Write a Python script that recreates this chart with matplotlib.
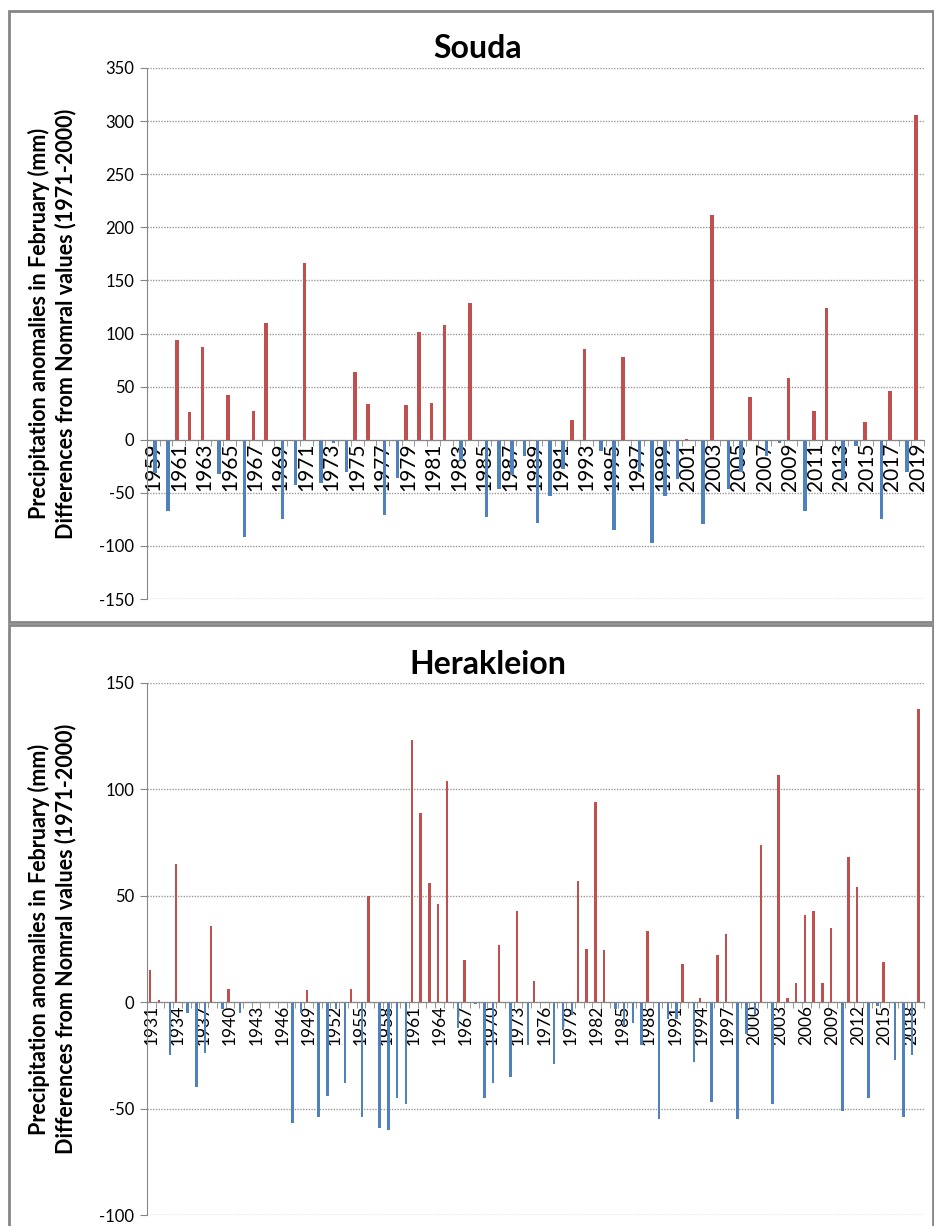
import numpy as np
import matplotlib
matplotlib.use("Agg")
import matplotlib.pyplot as plt
from matplotlib.patches import Rectangle
from matplotlib.ticker import MultipleLocator, FixedLocator

plt.rcParams['font.family'] = ['Lato', 'DejaVu Sans']
plt.rcParams['axes.unicode_minus'] = False

# Souda, February precipitation anomalies (mm), 1959-2019
souda_years = list(range(1959, 2020))
souda_vals = [-31, -67, 94, 26, 87, -32, 42, -92, 27, 110,
              -75, -43, 166, -41, -3, -30, 64, 34, -71, -36,
              33, 101, 35, 108, -20, 129, -73, -46, -33, -15,
              -78, -53, -28, 19, 85, -11, -85, 78, -30, -97,
              -53, -37, 1, -79, 212, -46, -30, 40, -15, -3,
              58, -67, 27, 124, -37, -6, 17, -75, 46, -30,
              306]

# Herakleion, February precipitation anomalies (mm), 1931-2019
her_years = list(range(1931, 2020))
her_vals = [15, 1, -25, 65, -5, -40, -24, 36, -3, 6,
            -5, 0, 0, 0, 0, 0, -57, -5, 5.5, -54,
            -44, -3, -38, 6, -54, 50, -59, -60, -45, -48,
            123, 89, 56, 46, 104, -12, 20, -1, -45, -38,
            27, -35, 43, -20, 10, 0, -29, -13, -6, 57,
            25, 94, 24.5, -3, -11, -10, -20, 33.5, -55, -8,
            -8, 18, -28, 2, -47, 22, 32, -55, -15, -6,
            74, -48, 107, 2, 9, 41, 43, 9, 35, -51,
            68, 54, -45, -2, 19, -27, -54, -25, 138]

red = '#C0504D'
blue = '#4F81BD'
grey = '#868686'

W, H = 934, 1226
fig = plt.figure(figsize=(W / 100, H / 100), dpi=100)


def fx(px):
    return px / W


def fy(py):
    return 1 - py / H


def panel(top, bottom, years, vals, ylim, step, label_every, xfont, title, title_xy):
    ax = fig.add_axes([fx(147), fy(bottom), fx(924 - 147), (bottom - top) / H])
    x = np.arange(len(years))
    pos = [v if v > 0 else 0 for v in vals]
    neg = [v if v < 0 else 0 for v in vals]
    ax.bar(x - 0.15, pos, width=0.28, color=red, zorder=3)
    ax.bar(x + 0.15, neg, width=0.28, color=blue, zorder=3)
    ax.set_xlim(-0.5, len(years) - 0.5)
    ax.set_ylim(*ylim)
    ax.yaxis.set_major_locator(MultipleLocator(step))
    ax.grid(axis='y', linestyle=(0, (1, 1)), color='#9a9a9a', linewidth=1, zorder=0)
    for s in ['top', 'right']:
        ax.spines[s].set_visible(False)
    ax.spines['bottom'].set_position(('data', 0))
    ax.spines['bottom'].set_color(grey)
    ax.spines['left'].set_color(grey)
    ax.spines['bottom'].set_zorder(4)
    ticks = x[::label_every]
    ax.xaxis.set_major_locator(FixedLocator(ticks))
    ax.set_xticklabels([str(years[i]) for i in ticks], rotation=90, fontsize=xfont)
    ax.xaxis.set_minor_locator(FixedLocator(np.arange(len(years) + 1) - 0.5))
    ax.tick_params(axis='x', which='major', length=0, pad=2)
    ax.tick_params(axis='x', which='minor', length=4, color=grey)
    ax.tick_params(axis='y', length=5, color=grey, labelsize=12, pad=4)
    ax.set_axisbelow(True)
    fig.text(fx(title_xy[0]), fy(title_xy[1]), title, fontsize=23, fontweight='bold',
             ha='center', va='center')
    fig.text(fx(52), fy((top + bottom) / 2 - 10),
             'Precipitation anomalies in February (mm)\n'
             'Differences from Nomral values (1971-2000)',
             rotation=90, ha='center', va='center', multialignment='center',
             fontsize=15.5, fontweight='bold', linespacing=1.3)
    return ax


panel(68, 599, souda_years, souda_vals, (-150, 350), 50, 2, 15, 'Souda', (478, 48))
panel(683, 1215, her_years, her_vals, (-100, 150), 50, 3, 12.5, 'Herakleion', (488, 665))

# chart-area borders
fig.add_artist(Rectangle((fx(8.5), fy(622)), fx(933 - 8.5), (622 - 10.5) / H,
                         transform=fig.transFigure, fill=False, edgecolor=grey, linewidth=2))
fig.add_artist(Rectangle((fx(8.5), fy(1240)), fx(933 - 8.5), (1240 - 625) / H,
                         transform=fig.transFigure, fill=False, edgecolor=grey, linewidth=2))

fig.savefig('out.png', dpi=100)
